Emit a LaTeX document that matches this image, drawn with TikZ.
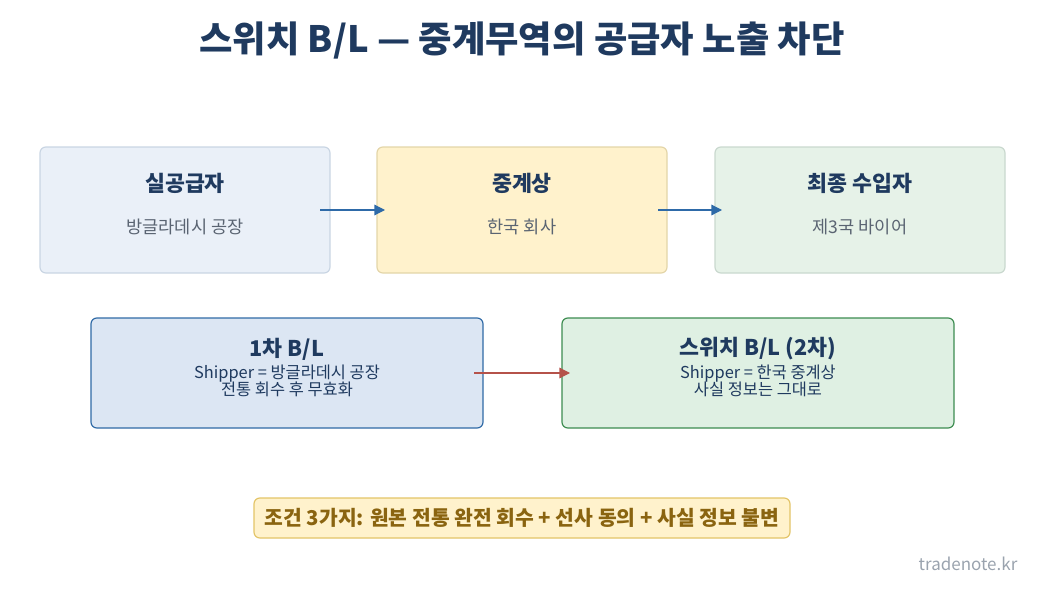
\documentclass[tikz,border=0pt]{standalone}
\usepackage{fontspec}
\setmainfont{Noto Sans CJK KR}
\usetikzlibrary{arrows.meta}
\definecolor{navy}{HTML}{1F3A5F}
\definecolor{subgray}{HTML}{5A6472}
\definecolor{flowblue}{HTML}{2E6AA8}
\definecolor{flowred}{HTML}{B5524A}
\definecolor{supfill}{HTML}{EAF0F8}
\definecolor{supline}{HTML}{C9D5E3}
\definecolor{midfill}{HTML}{FFF2CC}
\definecolor{midline}{HTML}{E3D5A8}
\definecolor{buyfill}{HTML}{E6F2E8}
\definecolor{buyline}{HTML}{C9D8CE}
\definecolor{firstfill}{HTML}{DCE6F3}
\definecolor{firstline}{HTML}{2F6AA6}
\definecolor{secfill}{HTML}{DFF0E3}
\definecolor{secline}{HTML}{3C8C50}
\definecolor{noteline}{HTML}{E3C467}
\definecolor{notetext}{HTML}{8A6410}
\definecolor{markgray}{HTML}{9AA3AE}
\tikzset{
  stage/.style={draw, rounded corners=5pt, line width=1pt},
  head/.style={font=\fontsize{18.5}{22}\selectfont\bfseries, text=navy},
  sub/.style={font=\fontsize{15}{18}\selectfont, text=subgray},
  blline/.style={font=\fontsize{14}{16}\selectfont, text=navy, align=center},
  flow/.style={-{Triangle[length=9pt,width=9pt]}, line width=1pt}
}
\begin{document}
\begin{tikzpicture}[x=0.03cm, y=-0.03cm]

    % Fondo
    \useasboundingbox (0,0) rectangle (1044,593);

    % Título
    \node[font=\fontsize{31}{36}\selectfont\bfseries, text=navy] (titulo) at (522,40)
      {스위치 B/L — 중계무역의 공급자 노출 차단};

    % Cajas superiores
    \draw[stage, fill=supfill, draw=supline] (40,147) rectangle (330,273);
    \draw[stage, fill=midfill, draw=midline] (377,147) rectangle (667,273);
    \draw[stage, fill=buyfill, draw=buyline] (715,147) rectangle (1005,273);

    \node[head] (sup) at (185,183) {실공급자};
    \node[sub] (supsub) at (185,227) {방글라데시 공장};
    \node[head] (mid) at (522,183) {중계상};
    \node[sub] (midsub) at (522,227) {한국 회사};
    \node[head] (buy) at (860,183) {최종 수입자};
    \node[sub] (buysub) at (860,227) {제3국 바이어};

    \coordinate (a1) at (320,210);
    \coordinate (a2) at (385,210);
    \coordinate (a3) at (658,210);
    \coordinate (a4) at (722,210);
    \draw[flow, flowblue] (a1) -- (a2);
    \draw[flow, flowblue] (a3) -- (a4);

    % Cajas B/L
    \draw[stage, fill=firstfill, draw=firstline] (91,318) rectangle (483,428);
    \draw[stage, fill=secfill, draw=secline] (562,318) rectangle (954,428);

    \node[head] (first) at (287,349) {1차 B/L};
    \node[blline] (firsttxt) at (287,381) {Shipper = 방글라데시 공장\\[-2pt]전통 회수 후 무효화};
    \node[head] (second) at (758,349) {스위치 B/L (2차)};
    \node[blline] (secondtxt) at (758,381) {Shipper = 한국 중계상\\[-2pt]사실 정보는 그대로};

    \coordinate (b1) at (474,373);
    \coordinate (b2) at (570,373);
    \draw[flow, flowred] (b1) -- (b2);

    % Nota
    \draw[rounded corners=5pt, line width=1pt, fill=midfill, draw=noteline]
      (254,498) rectangle (790,538);
    \node[font=\fontsize{17.4}{20}\selectfont\bfseries, text=notetext] (nota) at (522,518)
      {조건 3가지: 원본 전통 완전 회수 + 선사 동의 + 사실 정보 불변};

    \node[font=\fontsize{14.5}{17}\selectfont, text=markgray] (marca) at (968,564) {tradenote.kr};

\end{tikzpicture}
\end{document}
